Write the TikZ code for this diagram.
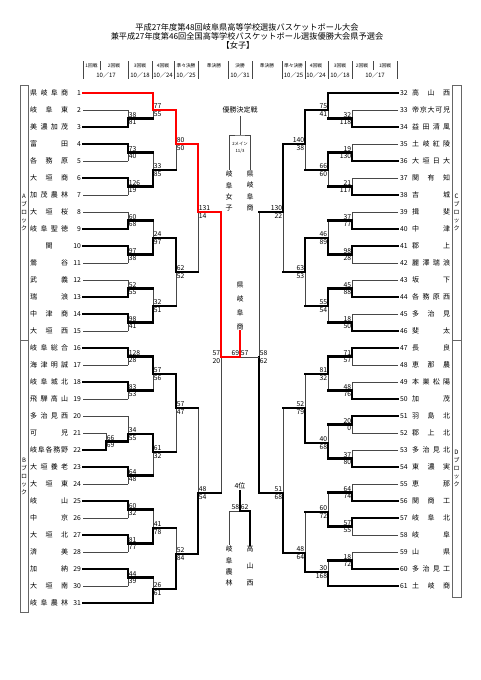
\documentclass[tikz,border=0pt]{standalone}
\usepackage{fontspec}
\setmainfont{Noto Sans CJK JP}

% names spread over the name column
\newcommand\spreadstop{}
\def\spreadloop#1#2{#1\ifx#2\spreadstop\else\hfill\expandafter\spreadloop\expandafter#2\fi}
\newcommand\spreadname[1]{\makebox[38pt][s]{\hskip0pt plus .001fil\spreadloop#1\spreadstop\hskip0pt plus .001fil}}

% one game: name, x, y of result, top entry, bottom entry, top/bottom line kind, scores
\newcommand\gameL[9]{%
  \coordinate (#1) at (#2,#3);
  \draw[v#6] (#4 -| #1) -- (#1);
  \draw[v#7] (#5 -| #1) -- (#1);
  \draw[h#6] (#4) -- (#4 -| #1);
  \draw[h#7] (#5) -- (#5 -| #1);
  \node[score, anchor=south west] (#1a) at (#1) {#8};
  \node[score, anchor=north west] (#1b) at (#1) {#9};
}
\newcommand\gameR[9]{%
  \coordinate (#1) at (#2,#3);
  \draw[v#6] (#4 -| #1) -- (#1);
  \draw[v#7] (#5 -| #1) -- (#1);
  \draw[h#6] (#4) -- (#4 -| #1);
  \draw[h#7] (#5) -- (#5 -| #1);
  \node[score, anchor=south east] (#1a) at (#1) {#8};
  \node[score, anchor=north east] (#1b) at (#1) {#9};
}

\begin{document}
\begin{tikzpicture}[
        x=1pt, y=-1pt,
        won/.style = {line width=2.5pt, line cap=rect},
        lost/.style = {line width=0.85pt, black!72},
        champ/.style = {line width=2.5pt, red, line cap=rect},
        hW/.style = {won}, vW/.style = {won},
        hR/.style = {champ}, vR/.style = {champ},
        hL/.style = {lost}, vL/.style = {lost},
        hLw/.style = {won}, vLw/.style = {lost},
        score/.style = {font=\fontsize{6.8}{6.8}\selectfont,
                        inner xsep=0.7pt, inner ysep=1.1pt},
        tname/.style = {font=\fontsize{7}{7}\selectfont,
                        inner sep=0pt, anchor=west},
        tnum/.style = {font=\fontsize{6.8}{6.8}\selectfont, inner sep=0pt},
        hdr/.style = {font=\fontsize{4.7}{4.7}\selectfont, inner sep=0pt},
        day/.style = {font=\fontsize{6}{6}\selectfont, inner sep=0pt},
        vtext/.style = {align=center, inner sep=1pt},
        blockbox/.style = {line width=0.7pt, black!60},
        ]
        \useasboundingbox (0,0) rectangle (481,680);

        \node[font=\fontsize{8.2}{8.2}\selectfont, inner sep=0pt] (title1) at (247,27)
            {平成27年度第48回岐阜県高等学校選抜バスケットボール大会};
        \node[font=\fontsize{8.2}{8.2}\selectfont, inner sep=0pt] (title2) at (247,36)
            {兼平成27年度第46回全国高等学校バスケットボール選抜優勝大会県予選会};
        \node[font=\fontsize{8.2}{8.2}\selectfont, inner sep=0pt] (title3) at (238,45) {【女子】};

        \foreach \x/\lab [count=\c] in {91.5/1回戦, 114/2回戦, 140/3回戦, 163/4回戦,
                186/準々決勝, 214/準決勝, 240/決勝, 267/準決勝, 293.5/準々決勝,
                316/4回戦, 340/3回戦, 362/2回戦, 385/1回戦}
            \node[hdr] (hd\c) at (\x,66) {\lab};
        \foreach \x/\lab [count=\c] in {106/10／17, 140/10／18, 163/10／24, 186/10／25,
                240/10／31, 293.5/10／25, 316/10／24, 340/10／18, 375/10／17}
            \node[day] (dt\c) at (\x,75) {\lab};
        \foreach \x in {83,128,152,174,198,228,252,282,305,328,352,397}
            \draw[lost] (\x,61) -- (\x,79);
        \foreach \x in {100,373}
            \draw[lost] (\x,61) -- (\x,70);

        \draw[blockbox] (20,85) rectangle (28,340) (20,340) rectangle (28,612);
        \draw[blockbox] (452,85) rectangle (461,340) (452,340) rectangle (461,597);
        \node[vtext, font=\fontsize{6}{8}\selectfont, inner sep=0pt] (blkA) at (24,212) {A\\ブ\\ロ\\ッ\\ク};
        \node[vtext, font=\fontsize{6}{8}\selectfont, inner sep=0pt] (blkB) at (24,476) {B\\ブ\\ロ\\ッ\\ク};
        \node[vtext, font=\fontsize{6}{8}\selectfont, inner sep=0pt] (blkC) at (456.5,212) {C\\ブ\\ロ\\ッ\\ク};
        \node[vtext, font=\fontsize{6}{8}\selectfont, inner sep=0pt] (blkD) at (456.5,468) {D\\ブ\\ロ\\ッ\\ク};

        \foreach \i/\name in {1/県岐阜商, 2/岐阜東, 3/美濃加茂, 4/富田, 5/各務原, 6/大垣商,
                7/加茂農林, 8/大垣桜, 9/岐阜聖徳, 10/関, 11/鶯谷, 12/武義, 13/瑞浪,
                14/中津商, 15/大垣西, 16/岐阜総合, 17/海津明誠, 18/岐阜城北, 19/飛騨高山,
                20/多治見西, 21/可児, 22/岐阜各務野, 23/大垣養老, 24/大垣東, 25/岐山,
                26/中京, 27/大垣北, 28/済美, 29/加納, 30/大垣南, 31/岐阜農林} {
            \pgfmathsetmacro\yy{93+17*(\i-1)}
            \node[tname] (n\i) at (30,\yy) {\expandafter\spreadname\expandafter{\name}};
            \node[tnum, anchor=east] (k\i) at (81,\yy) {\i};
            \coordinate (t\i) at (83,\yy);
        }
        \foreach \i/\name in {32/高山西, 33/帝京大可児, 34/益田清風, 35/土岐紅陵, 36/大垣日大,
                37/関有知, 38/吉城, 39/揖斐, 40/中津, 41/郡上, 42/麗澤瑞浪, 43/坂下,
                44/各務原西, 45/多治見, 46/斐太, 47/長良, 48/恵那農, 49/本巣松陽, 50/加茂,
                51/羽島北, 52/郡上北, 53/多治見北, 54/東濃実, 55/恵那, 56/関商工,
                57/岐阜北, 58/岐阜, 59/山県, 60/多治見工, 61/土岐商} {
            \pgfmathsetmacro\yy{93+17*(\i-32)}
            \node[tname] (n\i) at (412,\yy) {\expandafter\spreadname\expandafter{\name}};
            \node[tnum, anchor=west] (k\i) at (400,\yy) {\i};
            \coordinate (t\i) at (398,\yy);
        }

        % A and B blocks
        \gameL{g21}{106}{441.5}{t21}{t22}{L}{W}{66}{69}
        \gameL{g2}{128}{118.5}{t2}{t3}{L}{W}{38}{81}
        \gameL{g4}{128}{152.5}{t4}{t5}{W}{L}{73}{40}
        \gameL{g6}{128}{186.5}{t6}{t7}{W}{L}{126}{19}
        \gameL{g8}{128}{220.5}{t8}{t9}{L}{W}{60}{68}
        \gameL{g10}{128}{254.5}{t10}{t11}{W}{L}{97}{38}
        \gameL{g12}{128}{288.5}{t12}{t13}{L}{W}{52}{55}
        \gameL{g14}{128}{322.5}{t14}{t15}{W}{L}{98}{41}
        \gameL{g16}{128}{356.5}{t16}{t17}{W}{L}{128}{28}
        \gameL{g18}{128}{390.5}{t18}{t19}{W}{L}{83}{53}
        \gameL{g20}{128}{434}{t20}{g21}{L}{W}{34}{55}
        \gameL{g23}{128}{475.5}{t23}{t24}{W}{L}{64}{48}
        \gameL{g25}{128}{509.5}{t25}{t26}{W}{L}{60}{32}
        \gameL{g27}{128}{543.5}{t27}{t28}{W}{L}{81}{77}
        \gameL{g29}{128}{577.5}{t29}{t30}{W}{L}{44}{39}
        \gameL{h1}{153}{110}{t1}{g2}{R}{Lw}{77}{55}
        \gameL{h4}{153}{170}{g4}{g6}{Lw}{W}{33}{85}
        \gameL{h8}{153}{238}{g8}{g10}{Lw}{W}{24}{97}
        \gameL{h12}{153}{306}{g12}{g14}{Lw}{W}{32}{51}
        \gameL{h16}{153}{374}{g16}{g18}{W}{Lw}{57}{56}
        \gameL{h20}{153}{452}{g20}{g23}{W}{Lw}{61}{32}
        \gameL{h25}{153}{528}{g25}{g27}{Lw}{W}{41}{78}
        \gameL{h29}{153}{589}{g29}{t31}{Lw}{W}{26}{61}
        \gameL{i1}{176}{144}{h1}{h4}{R}{Lw}{80}{50}
        \gameL{i8}{176}{272}{h8}{h12}{W}{Lw}{62}{52}
        \gameL{i16}{176}{408}{h16}{h20}{W}{Lw}{57}{47}
        \gameL{i25}{176}{554}{h25}{h29}{Lw}{W}{52}{84}
        \gameL{qA}{198}{212}{i1}{i8}{R}{Lw}{131}{14}
        \gameL{qB}{198}{493}{i16}{i25}{Lw}{W}{48}{54}
        \gameR{sL}{221}{357}{qA}{qB}{R}{Lw}{57}{20}

        % C and D blocks
        \gameR{g33}{352}{118.5}{t33}{t34}{L}{W}{32}{118}
        \gameR{g35}{352}{152.5}{t35}{t36}{L}{W}{19}{130}
        \gameR{g37}{352}{186.5}{t37}{t38}{L}{W}{21}{117}
        \gameR{g39}{352}{220.5}{t39}{t40}{L}{W}{37}{77}
        \gameR{g41}{352}{254.5}{t41}{t42}{W}{L}{98}{28}
        \gameR{g43}{352}{288.5}{t43}{t44}{L}{W}{45}{88}
        \gameR{g45}{352}{322.5}{t45}{t46}{L}{W}{18}{50}
        \gameR{g47}{352}{356.5}{t47}{t48}{W}{L}{71}{57}
        \gameR{g49}{352}{390.5}{t49}{t50}{L}{W}{48}{76}
        \gameR{g51}{352}{424.5}{t51}{t52}{W}{L}{20}{0}
        \gameR{g53}{352}{458.5}{t53}{t54}{L}{W}{37}{80}
        \gameR{g55}{352}{492.5}{t55}{t56}{L}{W}{64}{74}
        \gameR{g57}{352}{526.5}{t57}{t58}{W}{L}{57}{55}
        \gameR{g59}{352}{560.5}{t59}{t60}{L}{W}{18}{72}
        \gameR{h32}{328}{110}{t32}{g33}{W}{Lw}{75}{41}
        \gameR{h35}{328}{170}{g35}{g37}{W}{Lw}{66}{60}
        \gameR{h39}{328}{238}{g39}{g41}{Lw}{W}{46}{89}
        \gameR{h43}{328}{306}{g43}{g45}{W}{Lw}{55}{54}
        \gameR{h47}{328}{374}{g47}{g49}{W}{Lw}{81}{32}
        \gameR{h51}{328}{443}{g51}{g53}{Lw}{W}{40}{68}
        \gameR{h55}{328}{512}{g55}{g57}{Lw}{W}{60}{72}
        \gameR{h59}{328}{572}{g59}{t61}{Lw}{W}{30}{168}
        \gameR{i32}{305}{144}{h32}{h35}{W}{Lw}{140}{38}
        \gameR{i39}{305}{272}{h39}{h43}{W}{Lw}{63}{53}
        \gameR{i47}{305}{408}{h47}{h51}{Lw}{W}{52}{79}
        \gameR{i55}{305}{553}{h55}{h59}{Lw}{W}{48}{64}
        \gameR{qC}{283}{212}{i32}{i39}{W}{Lw}{130}{22}
        \gameR{qD}{283}{493}{i47}{i55}{Lw}{W}{51}{68}
        \gameL{sR}{259}{357}{qC}{qD}{Lw}{W}{58}{62}

        % final
        \node[vtext, font=\fontsize{7}{14}\selectfont] (champ) at (240,306) {県\\岐\\阜\\商};
        \coordinate (fin) at (240,357);
        \draw[hL] (sR) -- (fin);
        \draw[hR] (sL) -- (fin);
        \draw[vR] (fin) -- (champ.south);
        \node[score, anchor=south east] (fina) at (fin) {69};
        \node[score, anchor=south west] (finb) at (fin) {57};

        \node[font=\fontsize{7}{7}\selectfont, inner sep=2.5pt] (yusho) at (240,110) {優勝決定戦};
        \coordinate (yj) at (240,135);
        \node[font=\fontsize{4.3}{7}\selectfont, align=center, inner sep=0pt] (venue) at (240,148) {2メイン\\11/3};
        \node[vtext, font=\fontsize{7}{11.3}\selectfont] (gw1) at (229,191) {岐\\阜\\女\\子};
        \node[vtext, font=\fontsize{7}{11.3}\selectfont] (gw2) at (250,191) {県\\岐\\阜\\商};
        \draw[lost] (yusho.south) -- (yj);
        \draw[lost] (gw1.north) |- (yj) -| (gw2.north);

        \node[font=\fontsize{7}{7}\selectfont, inner sep=2pt] (fourth) at (240,486) {4位};
        \coordinate (fj) at (240,511);
        \node[vtext, font=\fontsize{7}{11.3}\selectfont] (fo1) at (229,566) {岐\\阜\\農\\林};
        \node[vtext, font=\fontsize{7}{17}\selectfont] (fo2) at (250,566) {高\\山\\西};
        \draw[lost] (fj) -| (fo1.north);
        \draw[won] (fj) -| (fo2.north);
        \draw[won] (fourth.south) -- (fj);
        \node[score, anchor=south east] (fja) at (fj) {58};
        \node[score, anchor=south west] (fjb) at (fj) {62};
\end{tikzpicture}
\end{document}
